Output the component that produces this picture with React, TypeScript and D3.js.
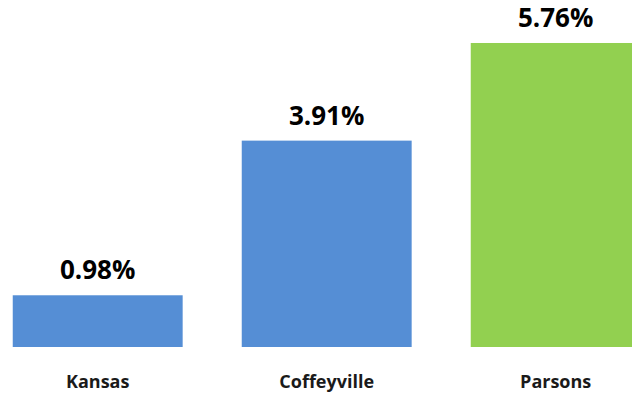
import React from "react";
import * as d3 from "d3";

const categories = ["Kansas", "Coffeyville", "Parsons"];
const values = [0.98, 3.91, 5.76];
const valueLabels = ["0.98%", "3.91%", "5.76%"];
const colors = ["#558ED5", "#558ED5", "#92D050"];

const W = 632;
const H = 394;

export default function App() {
  const x = d3
    .scaleBand<string>()
    .domain(categories)
    .range([-16.8, 670.2])
    .paddingInner(0.258)
    .paddingOuter(0.129);
  const y = d3.scaleLinear().domain([0, 6]).range([347, 347 - 6 * 52.78]);
  const font = "'Open Sans', 'Liberation Sans', sans-serif";
  return (
    <div style={{ position: "fixed", left: 0, top: 0 }}>
      <svg width={W} height={H} style={{ display: "block", background: "#fff" }}>
        {categories.map((c, i) => {
          const bx = x(c)!;
          const bw = x.bandwidth();
          const top = y(values[i]);
          return (
            <g key={c}>
              <rect x={bx} y={top} width={bw} height={y(0) - top} fill={colors[i]} />
              <text
                x={bx + bw / 2}
                y={top - 16}
                textAnchor="middle"
                fontFamily={font}
                fontWeight="bold"
                fontSize={26}
                fill="#000"
              >
                {valueLabels[i]}
              </text>
              <text
                x={bx + bw / 2}
                y={388}
                textAnchor="middle"
                fontFamily={font}
                fontWeight="bold"
                fontSize={18}
                fill="#1a1a1a"
              >
                {c}
              </text>
            </g>
          );
        })}
      </svg>
    </div>
  );
}
